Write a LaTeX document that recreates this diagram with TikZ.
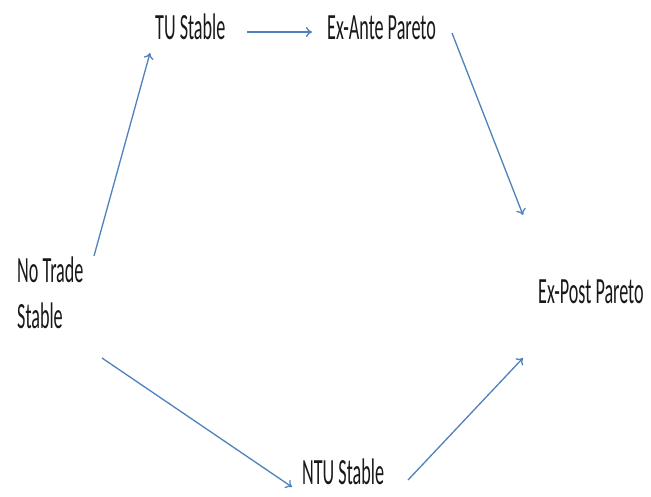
\documentclass[tikz,border=0pt]{standalone}
\usepackage{fontspec}
\setmainfont{Carlito}
\newfontfamily\lblfont[FakeStretch=0.49]{Carlito}
\usetikzlibrary{arrows.meta}
\definecolor{arrblue}{RGB}{79,129,189}
\begin{document}
\begin{tikzpicture}[x=1pt,y=-1pt,
  lbl/.style={inner sep=0pt, anchor=base west, text=black!90, font=\lblfont\fontsize{37}{46}\selectfont},
  conn/.style={draw=arrblue, line width=1.3pt, -{To[length=6pt,width=10pt]}}]
\useasboundingbox[fill=white] (0,0) rectangle (651,496);
\node[lbl] (tu) at (155,39) {TU Stable};
\node[lbl] (exante) at (327,39) {Ex-Ante Pareto};
\node[lbl, align=left] (notrade) at (17,328) {No Trade\\Stable};
\node[lbl] (expost) at (538,303) {Ex-Post Pareto};
\node[lbl] (ntu) at (302,484) {NTU Stable};
\coordinate (a1) at (94,256);  \coordinate (a2) at (150,53);
\coordinate (b1) at (247,32);  \coordinate (b2) at (312,32);
\coordinate (c1) at (452,33);  \coordinate (c2) at (523,215);
\coordinate (d1) at (102,358); \coordinate (d2) at (292,487);
\coordinate (e1) at (408,480); \coordinate (e2) at (523,358);
\draw[conn] (a1) -- (a2);
\draw[conn] (b1) -- (b2);
\draw[conn] (c1) -- (c2);
\draw[conn] (d1) -- (d2);
\draw[conn] (e1) -- (e2);
\end{tikzpicture}
\end{document}
